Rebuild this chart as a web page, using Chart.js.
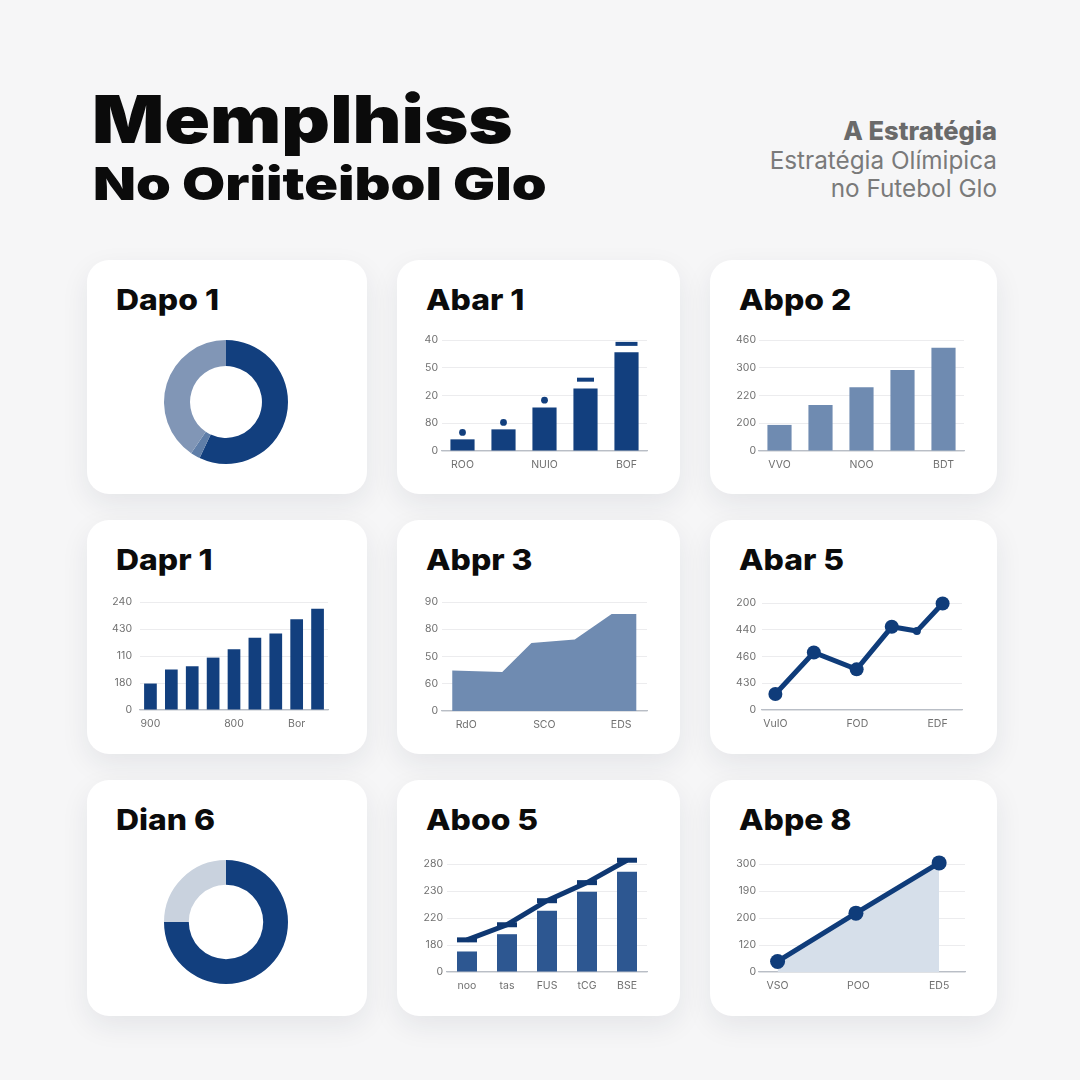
<!DOCTYPE html>
<html lang="pt-BR">
<head>
<meta charset="UTF-8" />
<title>Memplhiss</title>
<script src="https://cdn.jsdelivr.net/npm/chart.js"></script>
<style>
  body { margin:0; width:1080px; height:1080px; position:relative; overflow:hidden;
         background:#f6f6f7; font-family:Inter, "Noto Sans", sans-serif; }
  .t1 { position:absolute; left:92px; top:86px; font-size:66px; line-height:66px; font-weight:900; color:#0b0b0b;
        transform:scaleX(1.145); transform-origin:left top; }
  .t2 { position:absolute; left:93px; top:161px; font-size:45px; line-height:45px; font-weight:900; color:#0b0b0b;
        transform:scaleX(1.24); transform-origin:left top; }
  .sub { position:absolute; right:83px; top:117px; text-align:right; font-size:24.3px; line-height:28.5px; color:#7a7a7a; }
  .sub b { color:#6a6a6a; font-weight:800; font-size:25.5px; }
  .card { position:absolute; background:#fff; border-radius:22px; box-shadow:0 10px 28px rgba(30,40,60,0.08); }
  .card h2 { position:absolute; margin:0; left:29px; top:25px; font-size:29px; line-height:29px; font-weight:800; color:#0b0b0b;
             transform:scaleX(1.1); transform-origin:left top; }
  canvas { position:absolute; }
</style>
</head>
<body>

  <!-- cabeçalho -->
  <div class="t1">Memplhiss</div>
  <div class="t2">No Oriiteibol Glo</div>
  <div class="sub"><b>A Estratégia</b><br>Estratégia Olímipica<br>no Futebol Glo</div>

  <!-- cartões -->
  <div class="card" style="left:87px;top:260px;width:280px;height:234px"><h2>Dapo 1</h2></div>
  <div class="card" style="left:397px;top:260px;width:283px;height:234px"><h2>Abar 1</h2></div>
  <div class="card" style="left:710px;top:260px;width:287px;height:234px"><h2>Abpo 2</h2></div>
  <div class="card" style="left:87px;top:520px;width:280px;height:234px"><h2>Dapr 1</h2></div>
  <div class="card" style="left:397px;top:520px;width:283px;height:234px"><h2>Abpr 3</h2></div>
  <div class="card" style="left:710px;top:520px;width:287px;height:234px"><h2>Abar 5</h2></div>
  <div class="card" style="left:87px;top:780px;width:280px;height:236px"><h2>Dian 6</h2></div>
  <div class="card" style="left:397px;top:780px;width:283px;height:236px"><h2>Aboo 5</h2></div>
  <div class="card" style="left:710px;top:780px;width:287px;height:236px"><h2>Abpe 8</h2></div>

  <canvas id="c1"></canvas>
  <canvas id="c2"></canvas>
  <canvas id="c3"></canvas>
  <canvas id="c4"></canvas>
  <canvas id="c5"></canvas>
  <canvas id="c6"></canvas>
  <canvas id="c7"></canvas>
  <canvas id="c8"></canvas>
  <canvas id="c9"></canvas>

<script>
// ---- dados (valores em unidades de linha de grade, 0..4) ----
const rosca1 = [57, 2.5, 40.5];
const rosca2 = [75, 25];

const barra1Rotulos = ['ROO', '', 'NUIO', '', 'BOF'];
const barra1Ticks = ['0', '80', '20', '50', '40'];
const barra1Valores = [0.42, 0.78, 1.57, 2.25, 3.56];
const barra1Marcas = [0.67, 1.03, 1.83, 2.57, 3.86];

const barra2Rotulos = ['VVO', '', 'NOO', '', 'BDT'];
const barra2Ticks = ['0', '200', '220', '300', '460'];
const barra2Valores = [0.94, 1.66, 2.3, 2.92, 3.72];

const barra3Rotulos = ['900', '', '', '', '800', '', '', 'Bor', ''];
const barra3Ticks = ['0', '180', '110', '430', '240'];
const barra3Valores = [0.98, 1.5, 1.62, 1.94, 2.25, 2.68, 2.83, 3.36, 3.75];

const area1X = [0, 1.63, 2.58, 3.99, 5.19, 6];
const area1Y = [1.49, 1.43, 2.5, 2.62, 3.56, 3.56];
const area1TickX = [0.46, 3.0, 5.5];
const area1Rotulos = ['RdO', 'SCO', 'EDS'];
const area1Ticks = ['0', '60', '50', '80', '90'];

const linha1X = [0, 1.15, 2.43, 3.48, 4.23, 5];
const linha1Y = [0.6, 2.15, 1.52, 3.11, 2.95, 3.98];
const linha1TickX = [0, 2.45, 4.85];
const linha1Rotulos = ['VuIO', 'FOD', 'EDF'];
const linha1Ticks = ['0', '430', '460', '440', '200'];

const combo1Rotulos = ['noo', 'tas', 'FUS', 'tCG', 'BSE'];
const combo1Ticks = ['0', '180', '220', '230', '280'];
const combo1Barras = [0.76, 1.4, 2.27, 2.97, 3.71];
const combo1Linha = [1.19, 1.75, 2.64, 3.31, 4.14];

const linha2X = [0, 0.97, 2];
const linha2Y = [0.39, 2.18, 4.04];
const linha2Rotulos = ['VSO', 'POO', 'ED5'];
const linha2Ticks = ['0', '120', '200', '190', '300'];

// ---- cores ----
const azul = '#123f7e';
const azulMedio = '#2d5791';
const aco = '#6f8bb1';

Chart.defaults.animation = false;
Chart.defaults.responsive = false;
Chart.defaults.plugins.legend.display = false;
Chart.defaults.plugins.tooltip.enabled = false;
Chart.defaults.font.family = 'Inter, "Noto Sans", sans-serif';

function posicionar(id, c) {
  const el = document.getElementById(id);
  el.width = c.w; el.height = c.h;
  el.style.left = c.x + 'px'; el.style.top = c.y + 'px';
  el.style.width = c.w + 'px'; el.style.height = c.h + 'px';
  return el;
}

// opções comuns de eixo; c = canvas, a = área do gráfico (coordenadas da página)
function opcoes(c, a, yTicks, ypad, x) {
  return {
    layout: { padding: { left: 0, top: a.t - c.y, right: c.x + c.w - a.r, bottom: 0 } },
    scales: {
      x: Object.assign({
        grid: { display: false, drawTicks: false },
        border: { display: true, color: '#b9bec6', width: 1.2 },
        ticks: { padding: 8, color: '#707070', font: { size: 10.5 }, autoSkip: false, maxRotation: 0 },
        afterFit: s => { s.height = c.y + c.h - a.b; }
      }, x || {}),
      y: {
        min: 0, max: 4,
        grid: { color: '#ececee', drawTicks: false },
        border: { display: false },
        ticks: { stepSize: 1, padding: ypad, color: '#707070', font: { size: 10.5 },
                 callback: v => yTicks[v] },
        afterFit: s => { s.width = a.l - c.x; }
      }
    }
  };
}

function eixoLinear(min, max, pos, rotulos) {
  return {
    type: 'linear', min: min, max: max,
    afterBuildTicks: s => { s.ticks = pos.map(v => ({ value: v })); },
    ticks: { padding: 8, color: '#707070', font: { size: 10.5 }, autoSkip: false, maxRotation: 0,
             callback: (v, i) => rotulos[i] }
  };
}

// rosca 1
posicionar('c1', { x: 156, y: 332, w: 140, h: 140 });
new Chart('c1', {
  type: 'doughnut',
  data: { datasets: [{ data: rosca1, backgroundColor: [azul, '#5f7ea8', '#8196b6'], borderWidth: 0 }] },
  options: { cutout: '58%', layout: { padding: 8 } }
});

// barras 1 com marcadores
let c = { x: 400, y: 325, w: 265, h: 160 }, a = { l: 442, t: 340, r: 647, b: 451 };
posicionar('c2', c);
new Chart('c2', {
  type: 'bar',
  data: {
    labels: barra1Rotulos,
    datasets: [
      { type: 'line', data: barra1Marcas, showLine: false, clip: false, order: 0,
        pointStyle: ['circle', 'circle', 'circle', 'line', 'line'],
        pointRadius: [3.4, 3.4, 3.4, 8.5, 11], pointBorderWidth: [0, 0, 0, 4, 4],
        pointBackgroundColor: azul, pointBorderColor: azul },
      { data: barra1Valores, backgroundColor: azul, barPercentage: 0.62, categoryPercentage: 0.95, order: 1 }
    ]
  },
  options: opcoes(c, a, barra1Ticks, 4)
});

// barras 2
c = { x: 712, y: 325, w: 270, h: 160 }; a = { l: 759, t: 340, r: 964, b: 451 };
posicionar('c3', c);
new Chart('c3', {
  type: 'bar',
  data: { labels: barra2Rotulos, datasets: [{ data: barra2Valores, backgroundColor: aco, barPercentage: 0.62, categoryPercentage: 0.95 }] },
  options: opcoes(c, a, barra2Ticks, 3)
});

// barras 3
c = { x: 95, y: 585, w: 255, h: 160 }; a = { l: 140, t: 602, r: 328, b: 710 };
posicionar('c4', c);
new Chart('c4', {
  type: 'bar',
  data: { labels: barra3Rotulos, datasets: [{ data: barra3Valores, backgroundColor: azul, barPercentage: 0.64, categoryPercentage: 0.95 }] },
  options: opcoes(c, a, barra3Ticks, 8)
});

// área
c = { x: 400, y: 585, w: 265, h: 160 }; a = { l: 442, t: 602, r: 647, b: 711 };
posicionar('c5', c);
new Chart('c5', {
  type: 'line',
  data: { datasets: [{ data: area1X.map((x, i) => ({ x: x, y: area1Y[i] })), fill: 'origin',
                       backgroundColor: aco, borderWidth: 0, pointRadius: 0, tension: 0 }] },
  options: opcoes(c, a, area1Ticks, 4, eixoLinear(-0.33, 6.34, area1TickX, area1Rotulos))
});

// linha 1
c = { x: 712, y: 585, w: 270, h: 160 }; a = { l: 762, t: 603, r: 962, b: 710 };
posicionar('c6', c);
new Chart('c6', {
  type: 'line',
  data: { datasets: [{ data: linha1X.map((x, i) => ({ x: x, y: linha1Y[i] })), clip: false,
                       borderColor: '#0f3c7a', borderWidth: 5, tension: 0,
                       pointRadius: [7, 7, 7, 7, 4, 7], pointBorderWidth: 0, pointBackgroundColor: '#0f3c7a' }] },
  options: opcoes(c, a, linha1Ticks, 6, eixoLinear(-0.4, 5.58, linha1TickX, linha1Rotulos))
});

// rosca 2
posicionar('c7', { x: 156, y: 852, w: 140, h: 140 });
new Chart('c7', {
  type: 'doughnut',
  data: { datasets: [{ data: rosca2, backgroundColor: [azul, '#c9d2de'], borderWidth: 0 }] },
  options: { cutout: '60%', layout: { padding: 8 } }
});

// barras + linha em degraus
c = { x: 400, y: 845, w: 265, h: 165 }; a = { l: 447, t: 864, r: 647, b: 972 };
posicionar('c8', c);
new Chart('c8', {
  type: 'bar',
  data: {
    labels: combo1Rotulos,
    datasets: [
      { type: 'line', data: combo1Linha, clip: false, order: 0, borderColor: '#0f3872', borderWidth: 5, tension: 0,
        pointStyle: 'line', pointRadius: 10, pointBorderWidth: 5, pointBorderColor: '#0f3872' },
      { data: combo1Barras, backgroundColor: azulMedio, barPercentage: 0.5, categoryPercentage: 1, order: 1 }
    ]
  },
  options: opcoes(c, a, combo1Ticks, 4)
});

// linha 2 com área
c = { x: 712, y: 845, w: 270, h: 165 }; a = { l: 759, t: 864, r: 965, b: 972 };
posicionar('c9', c);
new Chart('c9', {
  type: 'line',
  data: { datasets: [{ data: linha2X.map((x, i) => ({ x: x, y: linha2Y[i] })), clip: false, fill: 'origin',
                       backgroundColor: '#d6dfea', borderColor: '#0f3c7a', borderWidth: 5, tension: 0,
                       pointRadius: 7.5, pointBorderWidth: 0, pointBackgroundColor: '#0f3c7a' }] },
  options: opcoes(c, a, linha2Ticks, 3, eixoLinear(-0.23, 2.32, [0, 1, 2], linha2Rotulos))
});
</script>
</body>
</html>
